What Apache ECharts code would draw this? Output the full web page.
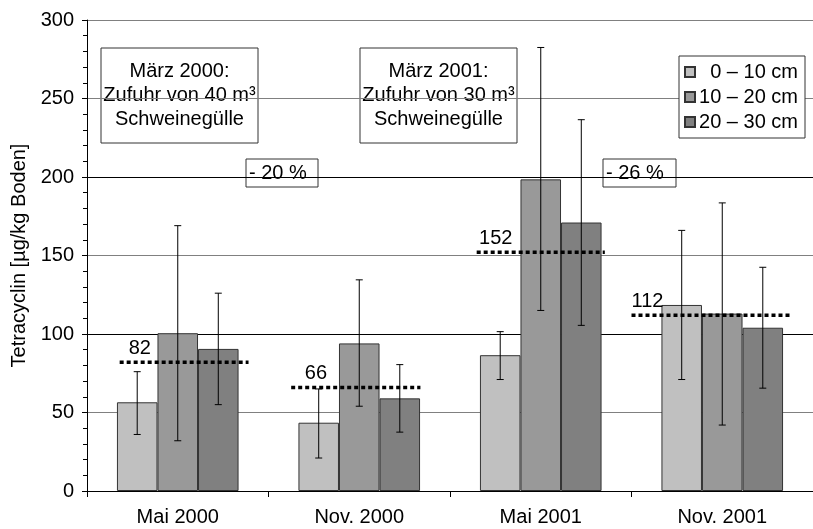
<!DOCTYPE html>
<html lang="de">
<head>
<meta charset="UTF-8">
<title>Tetracyclin im Boden</title>
<script src="https://cdn.jsdelivr.net/npm/echarts@6/dist/echarts.min.js"></script>
<style>html,body{margin:0;padding:0;background:#fff}#main{width:813px;height:529px}</style>
</head>
<body>
<div id="main"></div>
<script type="text/javascript">
    // Daten
    var categories = ['Mai 2000', 'Nov. 2000', 'Mai 2001', 'Nov. 2001'];
    var depthNames = ['0 – 10 cm', '10 – 20 cm', '20 – 30 cm'];
    var depth0 = [56.5, 43.5, 86.5, 118.5];
    var depth1 = [100.5, 94, 198.5, 113];
    var depth2 = [90.5, 59, 171, 104];
    // Fehlerbalken [unten, oben]
    var err0 = [[36, 76], [21, 65], [71, 101.5], [71, 166]];
    var err1 = [[32, 169], [54, 134.5], [115, 282.5], [42, 183.5]];
    var err2 = [[55, 126], [37.5, 80.5], [105.5, 236.5], [65.5, 142.5]];
    // Mittelwerte
    var means = [82, 66, 152, 112];

    var colors = ['#c0c0c0', '#999999', '#808080'];
    // Ausdehnung der Mittelwertlinien, Anteil der Kategoriebreite
    var meanSpan = [[-0.32, 0.39], [-0.375, 0.337], [-0.353, 0.353], [-0.5, 0.375]];
    var meanLabelX = [-0.27, -0.3, -0.34, -0.5];
    var font = 'Liberation Sans, Arial, sans-serif';
    var fs = 20;

    var myChart = echarts.init(document.getElementById('main'));

    function barSeries(i, values) {
        return {
            name: depthNames[i],
            type: 'bar',
            barGap: '0%',
            barCategoryGap: '33%',
            itemStyle: {color: colors[i], borderColor: '#333', borderWidth: 1},
            data: values,
            z: 2
        };
    }

    function errorSeries(i, errs) {
        return {
            type: 'custom',
            z: 4,
            encode: {x: 0, y: [1, 2]},
            data: errs.map(function (e, k) { return [k, e[0], e[1]]; }),
            renderItem: function (params, api) {
                var c = api.value(0);
                var band = api.size([1, 0])[0];
                var bw = band * 0.67 / 3;
                var x = api.coord([c, 0])[0] + (i - 1) * bw;
                var top = api.coord([c, api.value(2)])[1];
                var bot = api.coord([c, api.value(1)])[1];
                var st = {stroke: '#000', lineWidth: 1};
                return {
                    type: 'group',
                    children: [
                        {type: 'line', shape: {x1: x, y1: top, x2: x, y2: bot}, style: st},
                        {type: 'line', shape: {x1: x - 3.5, y1: top, x2: x + 3.5, y2: top}, style: st},
                        {type: 'line', shape: {x1: x - 3.5, y1: bot, x2: x + 3.5, y2: bot}, style: st}
                    ]
                };
            }
        };
    }

    var meanSeries = {
        type: 'custom',
        z: 5,
        data: means.map(function (m, k) { return [k, m]; }),
        renderItem: function (params, api) {
            var k = params.dataIndex;
            var band = api.size([1, 0])[0];
            var p = api.coord([api.value(0), api.value(1)]);
            return {
                type: 'group',
                children: [
                    {
                        type: 'line',
                        shape: {x1: p[0] + meanSpan[k][0] * band, y1: p[1], x2: p[0] + meanSpan[k][1] * band, y2: p[1]},
                        style: {stroke: '#000', lineWidth: 3.5, lineDash: [4, 3]}
                    },
                    {
                        type: 'text',
                        style: {
                            text: String(means[k]),
                            x: p[0] + meanLabelX[k] * band,
                            y: p[1] - 4,
                            align: 'left',
                            verticalAlign: 'bottom',
                            font: fs + 'px ' + font,
                            fill: '#000'
                        }
                    }
                ]
            };
        }
    };

    function noteBox(x, y, w, h, text, centered) {
        return {
            type: 'group',
            z: 100,
            children: [
                {type: 'rect', shape: {x: x, y: y, width: w, height: h},
                    style: {fill: '#fff', stroke: '#333', lineWidth: 1}},
                {type: 'text', style: {
                    text: text,
                    x: centered ? x + w / 2 : x + 3,
                    y: y + h / 2,
                    align: centered ? 'center' : 'left',
                    verticalAlign: 'middle',
                    font: fs + 'px ' + font,
                    lineHeight: 24,
                    fill: '#000'
                }}
            ]
        };
    }

    var option = {
        backgroundColor: '#fff',
        animation: false,
        textStyle: {fontFamily: font},
        grid: {left: 87, right: -11, top: 20, bottom: 38},
        legend: {
            data: depthNames,
            orient: 'vertical',
            left: 679,
            top: 56,
            padding: [6, 7, 6, 5],
            itemWidth: 10,
            itemHeight: 10,
            itemGap: 5,
            backgroundColor: '#fff',
            borderColor: '#333',
            borderWidth: 1,
            icon: 'rect',
            formatter: '{r|{name}}',
            textStyle: {
                color: '#000',
                fontSize: fs,
                rich: {r: {width: 98, align: 'right', fontSize: fs, fontFamily: font}}
            },
            z: 110
        },
        xAxis: {
            type: 'category',
            data: categories,
            axisLine: {lineStyle: {color: '#000', width: 1}},
            axisTick: {show: true, length: 6, lineStyle: {color: '#000'}},
            axisLabel: {color: '#000', fontSize: fs, margin: 16},
            splitLine: {show: false}
        },
        yAxis: {
            type: 'value',
            min: 0,
            max: 300,
            interval: 50,
            name: 'Tetracyclin [µg/kg Boden]',
            nameLocation: 'middle',
            nameGap: 55,
            nameTextStyle: {color: '#000', fontSize: fs},
            axisLine: {show: true, lineStyle: {color: '#000', width: 1}},
            axisTick: {show: true, length: 5, lineStyle: {color: '#000'}},
            minorTick: {show: true, splitNumber: 5, length: 4, lineStyle: {color: '#000'}},
            axisLabel: {color: '#000', fontSize: fs, margin: 13},
            splitLine: {
                show: true,
                lineStyle: {color: ['#000', '#808080', '#000', '#808080', '#000', '#808080', '#808080'], width: 1}
            }
        },
        graphic: [
            noteBox(101, 48, 157, 95, 'März 2000:\nZufuhr von 40 m³\nSchweinegülle', true),
            noteBox(360, 48, 157, 95, 'März 2001:\nZufuhr von 30 m³\nSchweinegülle', true),
            noteBox(246, 159, 72, 28, '- 20 %', false),
            noteBox(603, 159, 73, 28, '- 26 %', false)
        ],
        series: [
            barSeries(0, depth0),
            barSeries(1, depth1),
            barSeries(2, depth2),
            errorSeries(0, err0),
            errorSeries(1, err1),
            errorSeries(2, err2),
            meanSeries
        ]
    };

    myChart.setOption(option);
</script>
</body>
</html>
